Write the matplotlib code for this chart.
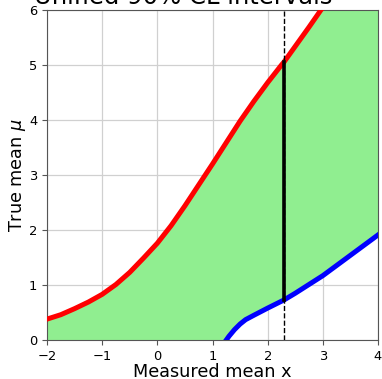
import numpy as np
import matplotlib
matplotlib.use("Agg")
import matplotlib.pyplot as plt

# Upper limit of the unified 90% CL band vs. measured mean
x_upper = [-2.0, -1.75, -1.5, -1.25, -1.0, -0.75, -0.5, -0.25, 0.0, 0.25, 0.5,
           0.75, 1.0, 1.25, 1.5, 1.75, 2.0, 2.25, 2.3, 2.5, 2.75, 3.0, 3.25, 3.5, 4.0]
mu_upper = [0.38, 0.46, 0.57, 0.69, 0.83, 1.01, 1.23, 1.49, 1.76, 2.08, 2.44,
            2.82, 3.20, 3.59, 3.98, 4.34, 4.68, 5.00, 5.06, 5.34, 5.69, 6.05, 6.40, 6.75, 7.45]

# Lower limit (zero below x ~ 1.25)
x_lower = [-2.0, 1.25, 1.3, 1.4, 1.5, 1.6, 1.75, 2.0, 2.3, 2.5, 3.0, 3.5, 4.0]
mu_lower = [0.0, 0.0, 0.07, 0.19, 0.29, 0.37, 0.45, 0.58, 0.73, 0.85, 1.17, 1.54, 1.91]

# Observed measurement and its interval
x_obs = 2.3
mu_obs_low = 0.73
mu_obs_high = 5.06

fig = plt.figure(figsize=(3.82, 3.79), dpi=100)
ax = fig.add_axes([47 / 382, 39 / 379, 331 / 382, 330 / 379])

xs = np.linspace(-2, 4, 601)
up = np.interp(xs, x_upper, mu_upper)
lo = np.interp(xs, x_lower, mu_lower)
ax.fill_between(xs, lo, up, color="lightgreen", lw=0, zorder=1)

ax.plot(x_upper, mu_upper, color="red", lw=3.6, zorder=3)
lo_mask = np.array(x_lower) >= 1.25
ax.plot(np.array(x_lower)[lo_mask], np.array(mu_lower)[lo_mask], color="blue", lw=3.6, zorder=3)

ax.plot([x_obs, x_obs], [mu_obs_low, mu_obs_high], color="black", lw=2.6, zorder=4)
ax.axvline(x_obs, color="black", lw=1.0, ls="--", zorder=4)

ax.set_xlim(-2, 4)
ax.set_ylim(0, 6)
ax.set_xticks(range(-2, 5))
ax.set_yticks(range(0, 7))
ax.grid(True, color="#d0d0d0", lw=0.9, zorder=0)
ax.set_axisbelow(True)
ax.tick_params(labelsize=9.4, color="#555555")
for s in ax.spines.values():
    s.set_color("#555555")

ax.set_xlabel("Measured mean x", fontsize=12.7, labelpad=0.5)
ax.set_ylabel(r"True mean $\mu$", fontsize=12.7, labelpad=0.8)
fig.text(183.5 / 382, (379 - 4) / 379, "Unified 90% CL intervals",
         fontsize=17.5, ha="center", va="baseline")

fig.savefig("out.png", dpi=100)
